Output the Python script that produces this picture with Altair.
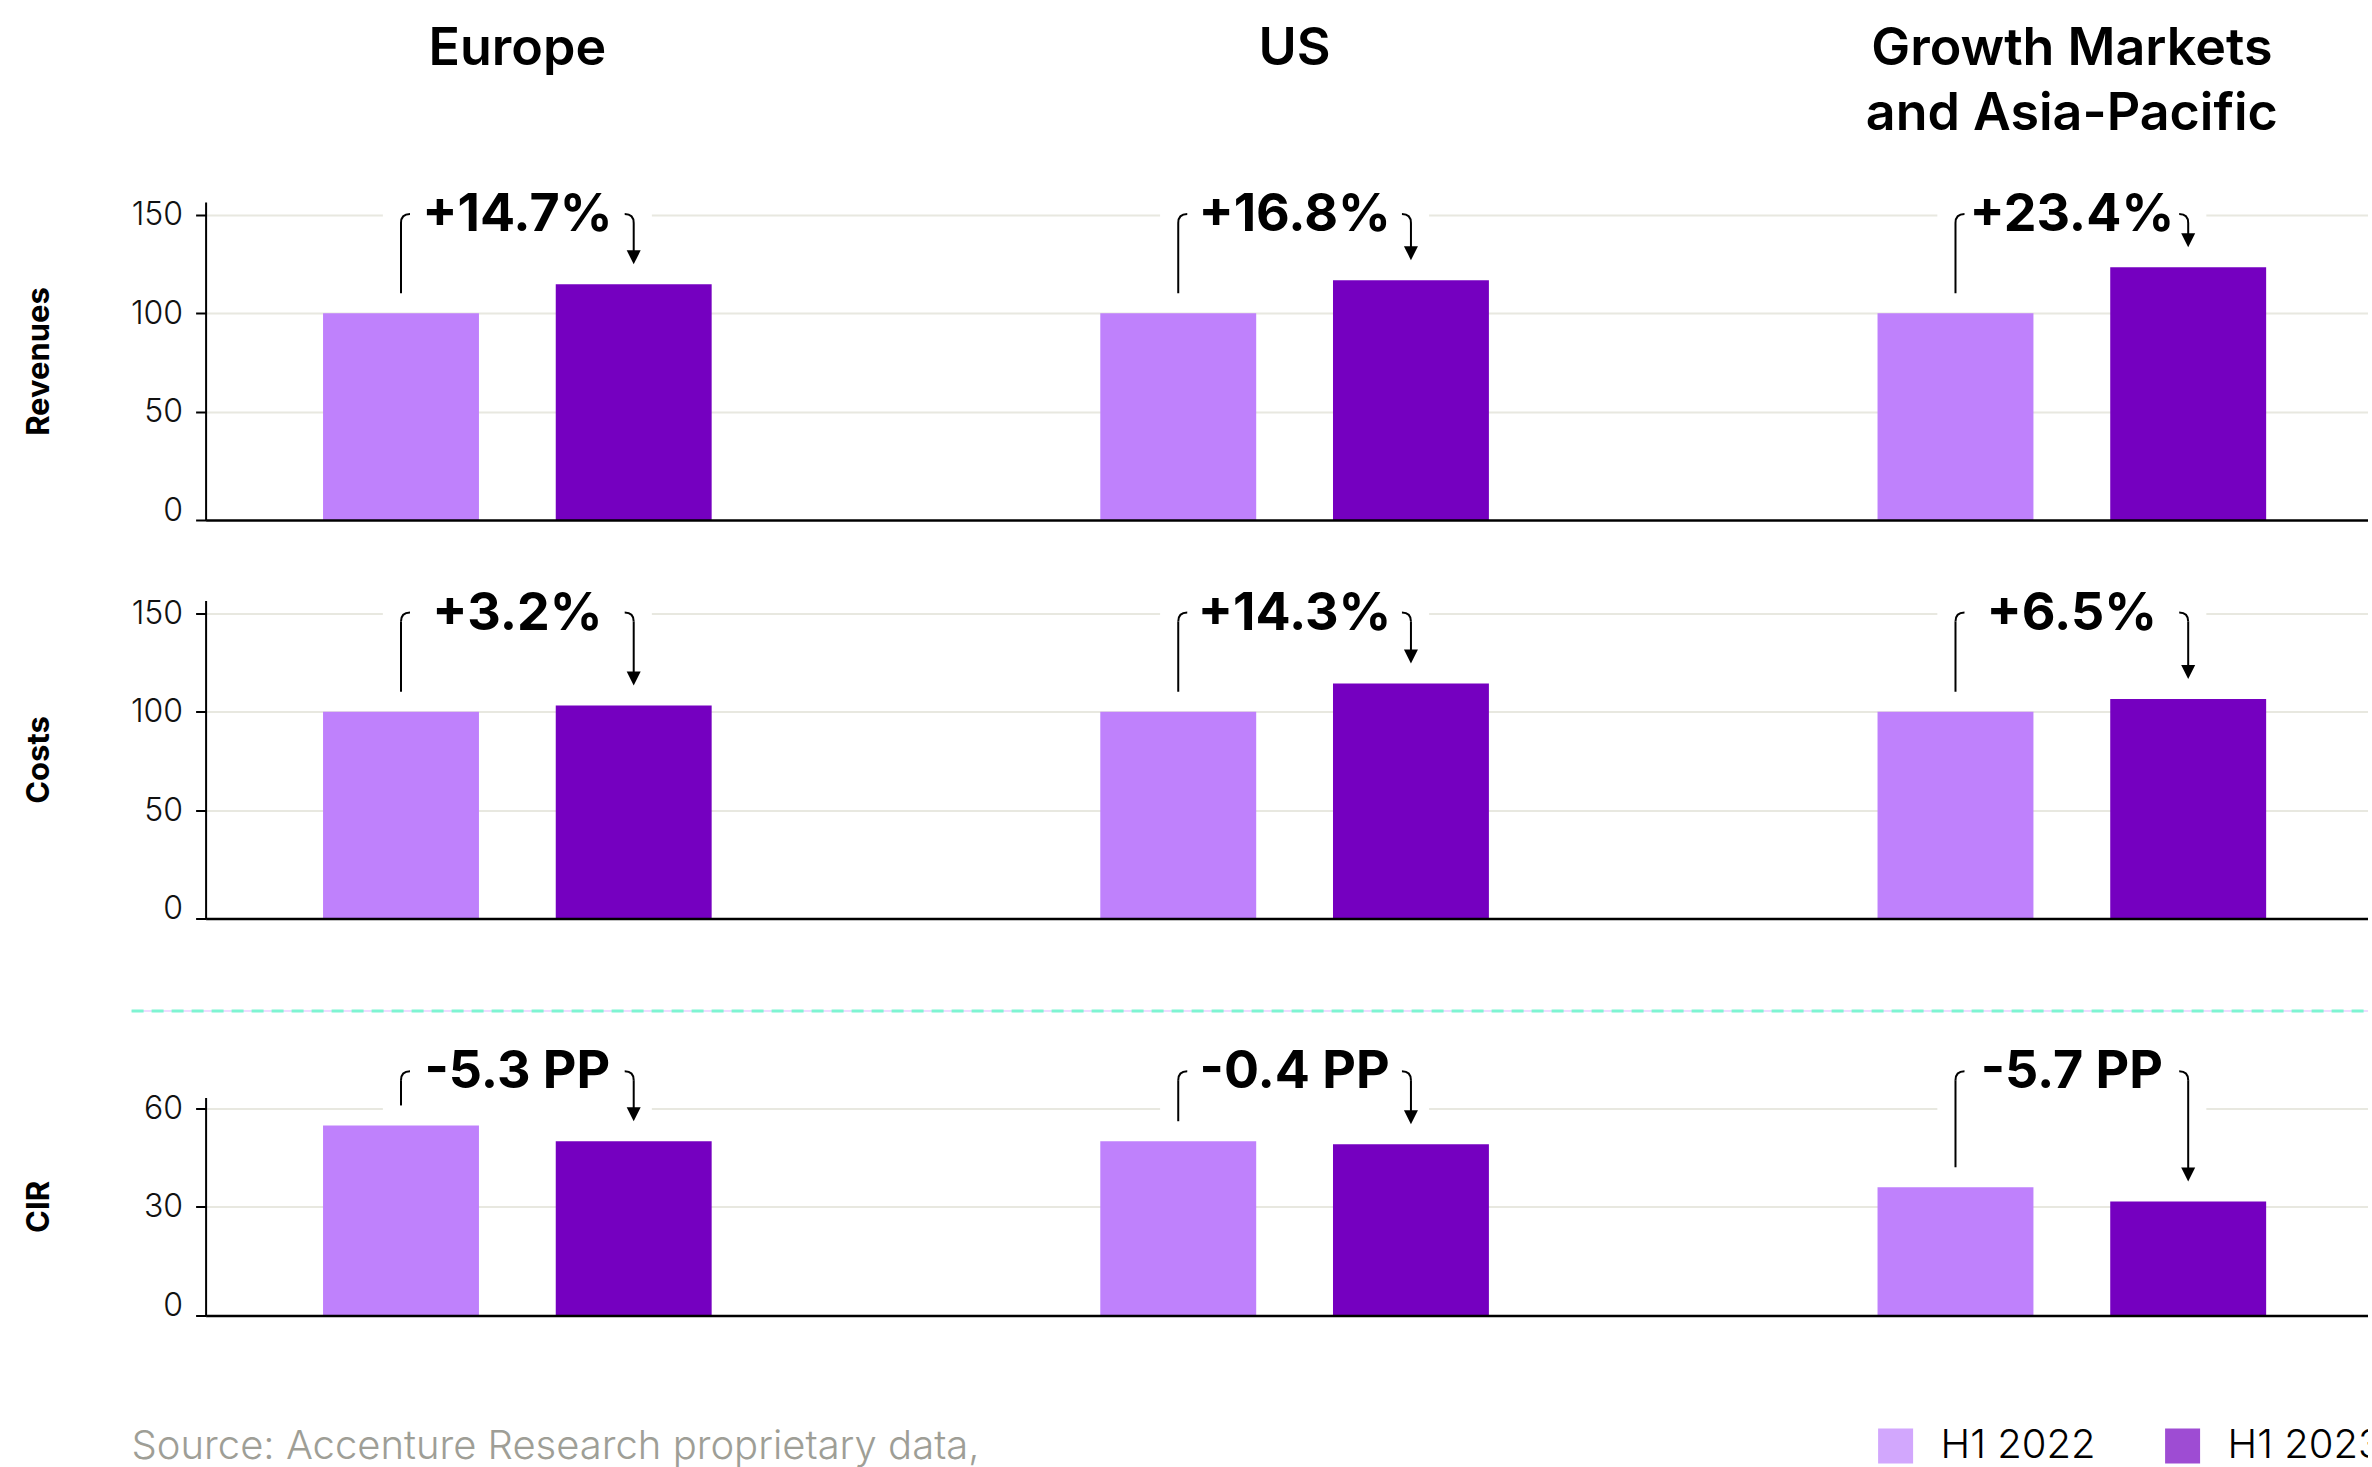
import altair as alt
import pandas as pd

# ---------------- data ----------------
REGIONS = ["Europe", "US", "Growth Markets and Asia-Pacific"]
REGION_TITLES = ["Europe", "US", "Growth Markets\nand Asia-Pacific"]
YEARS = ["H1 2022", "H1 2023"]

REVENUES_H1_2022 = [100, 100, 100]
REVENUES_H1_2023 = [114.7, 116.8, 123.4]
REVENUES_CHANGE = ["+14.7%", "+16.8%", "+23.4%"]

COSTS_H1_2022 = [100, 100, 100]
COSTS_H1_2023 = [103.2, 114.3, 106.5]
COSTS_CHANGE = ["+3.2%", "+14.3%", "+6.5%"]

CIR_H1_2022 = [54.8, 50.0, 36.0]
CIR_H1_2023 = [50.0, 49.1, 31.7]
CIR_CHANGE = ["-5.3 PP", "-0.4 PP", "-5.7 PP"]

REV_TICKS = [0, 50, 100, 150]
COST_TICKS = [0, 50, 100, 150]
CIR_TICKS = [0, 30, 60]

SOURCE = "Source: Accenture Research proprietary data,"

# ---------------- style ----------------
FONT = "Inter"
LIGHT = "#BF81FC"
DARK = "#7500C0"
GRID = "#E8E8E0"
W = 2178
HOOK_L = "M 0 1 Q 0 0 1 0"
HOOK_R = "M -1 0 Q 0 0 0 1"
ARROW = "M -1 -2 L 1 -2 L 0 0 Z"

xscale = alt.Scale(domain=REGIONS, paddingInner=0.5, paddingOuter=0.1511)
xoffscale = alt.Scale(domain=YEARS, paddingInner=0.33, paddingOuter=0)
xaxis = alt.Axis(title=None, labels=False, ticks=False, grid=False, domain=True,
                 domainColor="black", domainWidth=2.5, zindex=1)
X = alt.X("region:N", scale=xscale, axis=xaxis)
XO = alt.XOffset("year:N", scale=xoffscale)

LEGEND = alt.Legend(title=None, orient="none", legendX=1670, legendY=1224,
                    direction="horizontal", symbolType="square", symbolSize=1225,
                    symbolOpacity=0.7, symbolStrokeWidth=0, labelFontSize=40,
                    labelFontWeight=300, labelColor="black", labelFont=FONT,
                    labelOffset=25, columnPadding=67, padding=0)
COLOR = alt.Color("year:N", scale=alt.Scale(domain=YEARS, range=[LIGHT, DARK]), legend=LEGEND)


def make_row(title, v22, v23, labels, ticks, ymin, ymax, height, level, rect_lo, rect_hi):
    ppu = height / (ymax - ymin)
    gap = 20 / ppu
    hook = 9 / ppu
    arrow = 14 / ppu

    bars = pd.DataFrame({
        "region": REGIONS * 2,
        "year": [YEARS[0]] * 3 + [YEARS[1]] * 3,
        "value": list(v22) + list(v23),
    })
    rows = []
    for i, r in enumerate(REGIONS):
        rows.append({"region": r, "year": YEARS[0], "side": "L", "y_top": level - hook,
                     "y_bot": v22[i] + gap, "y_hook": level, "y_tip": v22[i] + gap})
        rows.append({"region": r, "year": YEARS[1], "side": "R", "y_top": level - hook,
                     "y_bot": v23[i] + gap + arrow * 0.5, "y_hook": level,
                     "y_tip": v23[i] + gap})
    ann = pd.DataFrame(rows)
    lab = pd.DataFrame({"region": REGIONS, "label": labels, "level": [level] * 3,
                        "rect_lo": [rect_lo] * 3, "rect_hi": [rect_hi] * 3})

    yscale = alt.Scale(domain=[ymin, ymax], nice=False, zero=False)
    yaxis = alt.Axis(
        title=title, values=[ymin] + ticks,
        labelExpr="datum.value < 0 ? '' : datum.label",
        gridOpacity={"condition": {"test": "datum.value <= 0", "value": 0}, "value": 1},
        tickOpacity={"condition": {"test": "datum.value == 0", "value": 0}, "value": 1},
        titleX=-166, titleY=height / 2, titleAngle=-90, titleAlign="center",
        titleBaseline="middle",
    )

    def Y(f):
        return alt.Y(f, type="quantitative", scale=yscale, axis=yaxis)

    rect = alt.Chart(lab).mark_bar(width=269, color="white").encode(
        x=X, y=Y("rect_lo"), y2="rect_hi")
    bar = alt.Chart(bars).mark_bar().encode(
        x=X, xOffset=XO, y=Y("value"), y2=alt.Y2Datum(ymin), color=COLOR)
    rule = alt.Chart(ann).mark_rule(color="black", strokeWidth=2).encode(
        x=X, xOffset=XO, y=Y("y_top"), y2="y_bot")
    hooks = alt.Chart(ann).mark_point(filled=False, size=324, color="black",
                                      strokeWidth=2, opacity=1).encode(
        x=X, xOffset=XO, y=Y("y_hook"),
        shape=alt.Shape("side:N", scale=alt.Scale(domain=["L", "R"], range=[HOOK_L, HOOK_R]),
                        legend=None))
    arrows = alt.Chart(ann).transform_filter(alt.datum.side == "R").mark_point(
        filled=True, size=196, color="black", shape=ARROW, opacity=1, strokeWidth=0).encode(
        x=X, xOffset=XO, y=Y("y_tip"))
    text = alt.Chart(lab).mark_text(font=FONT, fontSize=52, fontWeight="bold",
                                    baseline="alphabetic", align="center", dy=17,
                                    color="black").encode(
        x=X, y=Y("level"), text="label:N")
    return [rect, bar, rule, hooks, arrows, text]


row1_layers = make_row("Revenues", REVENUES_H1_2022, REVENUES_H1_2023, REVENUES_CHANGE,
                       REV_TICKS, -5, 156.5, 318, 150.4, 145, 157)
titles = alt.Chart(pd.DataFrame({"region": REGIONS, "title": REGION_TITLES})).mark_text(
    font=FONT, fontSize=52, fontWeight=600, lineBreak="\n", lineHeight=65,
    baseline="alphabetic", align="center", color="black").encode(
    x=X, y=alt.value(-137), text="title:N")
row1 = alt.layer(*row1_layers, titles).properties(width=W, height=318)

row2 = alt.layer(*make_row("Costs", COSTS_H1_2022, COSTS_H1_2023, COSTS_CHANGE,
                           COST_TICKS, -5, 156.5, 318, 150.4, 145, 157)).properties(
    width=W, height=318)

sep_df = pd.DataFrame({"k": [0]})
sep_base = alt.Chart(sep_df).mark_rule(color="#DDB8FF", strokeWidth=1).encode(
    x=alt.value(-74), x2=alt.value(W), y=alt.value(12))
sep_dash = alt.Chart(sep_df).mark_rule(color="#7FF4D2", strokeWidth=3,
                                       strokeDash=[12, 8]).encode(
    x=alt.value(-74), x2=alt.value(W), y=alt.value(12))
spacer = alt.layer(sep_base, sep_dash).properties(width=W, height=18)

row3_layers = make_row("CIR", CIR_H1_2022, CIR_H1_2023, CIR_CHANGE,
                       CIR_TICKS, -3, 63.3, 218, 71.3, 57, 66)
source = alt.Chart(pd.DataFrame({"t": [SOURCE]})).mark_text(
    font=FONT, fontSize=40, fontWeight=300, align="left", baseline="alphabetic",
    color="#9E9E96").encode(x=alt.value(-74), y=alt.value(362), text="t:N")
row3 = alt.layer(*row3_layers, source).properties(width=W, height=218)

chart = alt.vconcat(row1, row2, spacer, row3, spacing=80.5, bounds="flush").configure(
    font=FONT, background="white",
    padding={"left": 22.6, "top": 23, "right": -18, "bottom": 0},
).configure_view(strokeWidth=0).configure_axisY(
    domainColor="black", domainWidth=2, tickColor="black", tickWidth=2, tickSize=10,
    labelFont=FONT, labelFontSize=32, labelFontWeight=300, labelColor="#111111",
    labelPadding=13, gridColor=GRID, gridWidth=2, titleFont=FONT, titleFontSize=31,
    titleFontWeight="bold", titleColor="black",
)

chart.save("out.html", embed_options={"renderer": "svg", "actions": False})
